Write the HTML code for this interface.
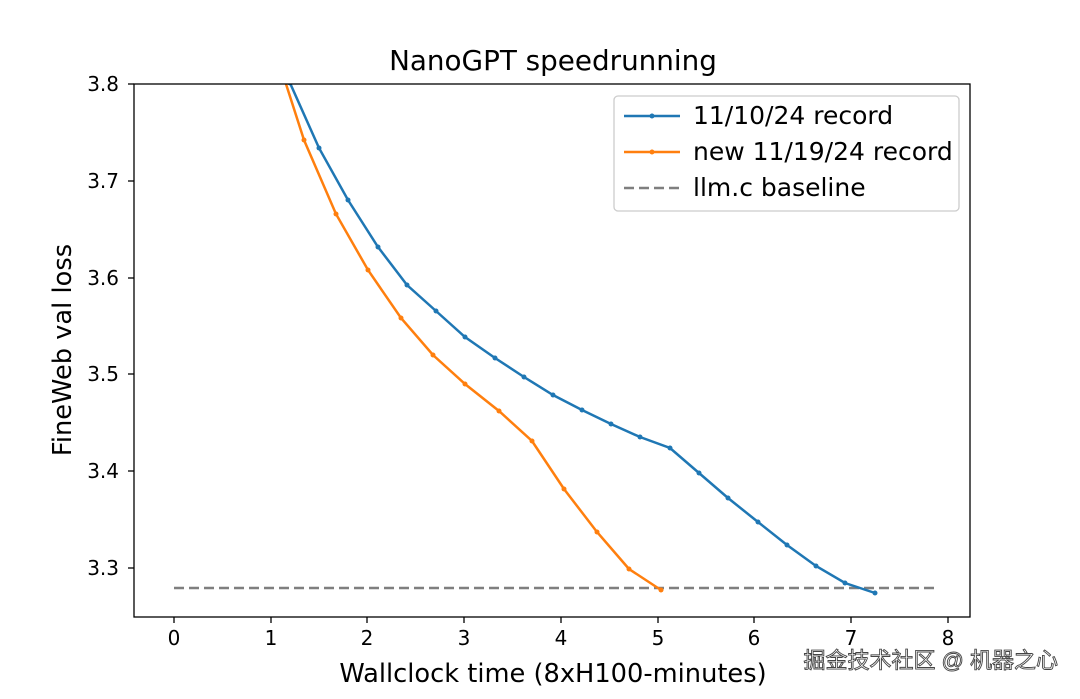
<!DOCTYPE html>
<html><head><style>
body{margin:0;background:#fff;}
svg text{font-family:"DejaVu Sans","Liberation Sans",sans-serif;fill:#000;}
</style></head><body>
<svg width="1080" height="694" viewBox="0 0 1080 694" xmlns="http://www.w3.org/2000/svg">
<defs><clipPath id="c"><rect x="134" y="84" width="836" height="533"/></clipPath></defs>
<text x="553" y="70" font-size="27.8" text-anchor="middle">NanoGPT speedrunning</text>
<g clip-path="url(#c)">
<line x1="174" y1="588" x2="935" y2="588" stroke="#7f7f7f" stroke-width="2.5" stroke-dasharray="10,5"/>
<polyline fill="none" stroke="#1f77b4" stroke-width="2.5" points="280,40 290,83 319,148 348,200 378,247 407,285 436,311 465,337 495,358 524,377 553,395 582,410 611,424 640,437 670,448 699,473 728,498 758,522 787,545 816,566 845,583 875,593"/>
<g fill="#1f77b4"><circle cx="290" cy="83" r="2.5"/><circle cx="319" cy="148" r="2.5"/><circle cx="348" cy="200" r="2.5"/><circle cx="378" cy="247" r="2.5"/><circle cx="407" cy="285" r="2.5"/><circle cx="436" cy="311" r="2.5"/><circle cx="465" cy="337" r="2.5"/><circle cx="495" cy="358" r="2.5"/><circle cx="524" cy="377" r="2.5"/><circle cx="553" cy="395" r="2.5"/><circle cx="582" cy="410" r="2.5"/><circle cx="611" cy="424" r="2.5"/><circle cx="640" cy="437" r="2.5"/><circle cx="670" cy="448" r="2.5"/><circle cx="699" cy="473" r="2.5"/><circle cx="728" cy="498" r="2.5"/><circle cx="758" cy="522" r="2.5"/><circle cx="787" cy="545" r="2.5"/><circle cx="816" cy="566" r="2.5"/><circle cx="845" cy="583" r="2.5"/><circle cx="875" cy="593" r="2.5"/></g>
<polyline fill="none" stroke="#ff7f0e" stroke-width="2.5" points="270,30 286,84 304,140 336,214 368,270 401,318 433,355 465,384 499,411 532,441 564,489 597,532 629,569 661,590"/>
<g fill="#ff7f0e"><circle cx="304" cy="140" r="2.5"/><circle cx="336" cy="214" r="2.5"/><circle cx="368" cy="270" r="2.5"/><circle cx="401" cy="318" r="2.5"/><circle cx="433" cy="355" r="2.5"/><circle cx="465" cy="384" r="2.5"/><circle cx="499" cy="411" r="2.5"/><circle cx="532" cy="441" r="2.5"/><circle cx="564" cy="489" r="2.5"/><circle cx="597" cy="532" r="2.5"/><circle cx="629" cy="569" r="2.5"/><circle cx="661" cy="590" r="2.5"/></g>
</g>
<rect x="134" y="84" width="836" height="533" fill="none" stroke="#000" stroke-width="1.3"/>
<g stroke="#000" stroke-width="1.3">
<line x1="174" y1="617" x2="174" y2="623"/><line x1="271" y1="617" x2="271" y2="623"/><line x1="367" y1="617" x2="367" y2="623"/><line x1="464" y1="617" x2="464" y2="623"/><line x1="561" y1="617" x2="561" y2="623"/><line x1="658" y1="617" x2="658" y2="623"/><line x1="754" y1="617" x2="754" y2="623"/><line x1="851" y1="617" x2="851" y2="623"/><line x1="948" y1="617" x2="948" y2="623"/>
<line x1="128" y1="84" x2="134" y2="84"/><line x1="128" y1="181" x2="134" y2="181"/><line x1="128" y1="278" x2="134" y2="278"/><line x1="128" y1="374" x2="134" y2="374"/><line x1="128" y1="471" x2="134" y2="471"/><line x1="128" y1="568" x2="134" y2="568"/>
</g>
<g font-size="20" text-anchor="middle">
<text x="174" y="645">0</text><text x="271" y="645">1</text><text x="367" y="645">2</text><text x="464" y="645">3</text><text x="561" y="645">4</text><text x="658" y="645">5</text><text x="754" y="645">6</text><text x="851" y="645">7</text><text x="948" y="645">8</text>
</g>
<g font-size="20" text-anchor="end">
<text x="119" y="91">3.8</text><text x="119" y="188">3.7</text><text x="119" y="285">3.6</text><text x="119" y="381">3.5</text><text x="119" y="478">3.4</text><text x="119" y="575">3.3</text>
</g>
<text x="553" y="682" font-size="25.7" text-anchor="middle">Wallclock time (8xH100-minutes)</text>
<text x="0" y="0" font-size="25.7" text-anchor="middle" transform="translate(71,350) rotate(-90)">FineWeb val loss</text>
<rect x="614" y="96" width="345" height="115" rx="4" fill="#fff" stroke="#ccc" stroke-width="1.3"/>
<line x1="624" y1="116" x2="680" y2="116" stroke="#1f77b4" stroke-width="2.5"/><circle cx="652" cy="116" r="2.5" fill="#1f77b4"/>
<line x1="624" y1="152" x2="680" y2="152" stroke="#ff7f0e" stroke-width="2.5"/><circle cx="652" cy="152" r="2.5" fill="#ff7f0e"/>
<line x1="624" y1="188" x2="680" y2="188" stroke="#7f7f7f" stroke-width="2.5" stroke-dasharray="10,5"/>
<g font-size="25"><text x="693" y="124">11/10/24 record</text><text x="693" y="160">new 11/19/24 record</text><text x="693" y="196">llm.c baseline</text></g>
<text x="1058" y="668" font-size="22" text-anchor="end" style="fill:#fff;stroke:#444;stroke-width:0.9;font-family:'Liberation Sans','Noto Sans CJK SC',sans-serif">掘金技术社区 @ 机器之心</text>
</svg>
</body></html>
